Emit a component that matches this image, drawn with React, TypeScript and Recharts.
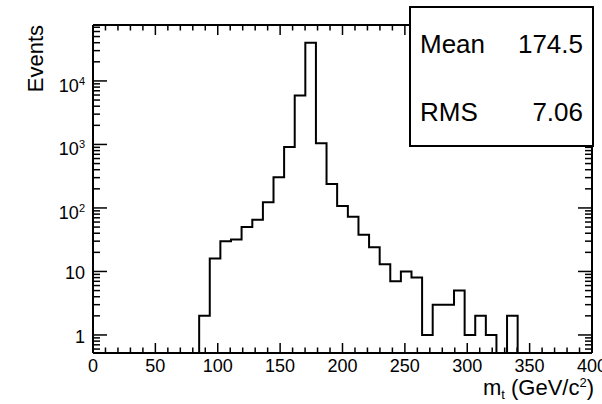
import React from 'react';
import { ComposedChart, Line, XAxis, YAxis } from 'recharts';

const FONT = '"Liberation Sans", Arial, Helvetica, sans-serif';

// histogram bins: lower edges in GeV/c^2, the last entry closes the final bin
const binEdges = [
  85.1, 93.6, 102.1, 110.6, 119.1, 127.7, 136.2, 144.7, 153.2, 161.7,
  170.2, 178.7, 187.2, 195.7, 204.3, 212.8, 221.3, 229.8, 238.3, 246.8,
  255.3, 263.8, 272.3, 280.9, 289.4, 297.9, 306.4, 314.9, 323.4, 331.9, 340.4,
];
const binCounts = [
  2, 16, 30, 32, 50, 65, 123, 304, 914, 5900,
  40000, 1045, 239, 107, 73, 38, 24, 13, 7, 10,
  8, 1, 3, 3, 5, 1, 2, 1, 0, 2,
];

const xMajorTicks = [0, 50, 100, 150, 200, 250, 300, 350, 400];
const xTickLabels = ['0', '50', '100', '150', '200', '250', '300', '350', '400'];
const xMinorTicks = [
  10, 20, 30, 40, 60, 70, 80, 90, 110, 120, 130, 140, 160, 170, 180, 190,
  210, 220, 230, 240, 260, 270, 280, 290, 310, 320, 330, 340, 360, 370, 380, 390,
];

const yDecades = [1, 10, 100, 1000, 10000];
const yTickBase = ['1', '10', '10', '10', '10'];
const yTickExp = ['', '', '2', '3', '4'];

const statNames = ['Mean', 'RMS'];
const statValues = ['174.5', '7.06'];

const Y_MIN = 0.52;
const Y_MAX = 76000;

// log axis minor ticks (2..9 in every decade inside the frame)
const yMinorTicks: number[] = [];
[0.1, 1, 10, 100, 1000, 10000].forEach((d) => {
  for (let k = 2; k <= 9; k++) {
    const v = k * d;
    if (v > Y_MIN && v < Y_MAX) yMinorTicks.push(v);
  }
});
const yTicks = [...yMinorTicks, ...yDecades].sort((a, b) => a - b);
const xTicks = [...xMajorTicks, ...xMinorTicks].sort((a, b) => a - b);

// empty bins sit on the frame bottom since log(0) has no place on the axis
const histData = [
  { x: binEdges[0], y: Y_MIN },
  ...binCounts.map((c, i) => ({ x: binEdges[i], y: c > 0 ? c : Y_MIN })),
  { x: binEdges[binEdges.length - 1], y: Y_MIN },
];

const isDecade = (v: number) => yDecades.some((d) => Math.abs(v - d) < 1e-6);

const BottomTick = ({ x, y, payload }: any) => {
  const idx = xMajorTicks.indexOf(payload.value);
  const major = idx >= 0;
  return (
    <g>
      <line x1={x} x2={x} y1={y} y2={y - (major ? 10 : 5.5)} stroke="#000" strokeWidth={1.5} />
      {major && (
        <text x={x} y={y + 18.5} textAnchor="middle" fontSize={18} fontFamily={FONT} fill="#000">
          {xTickLabels[idx]}
        </text>
      )}
    </g>
  );
};

const TopTick = ({ x, y, payload }: any) => {
  const major = xMajorTicks.includes(payload.value);
  return <line x1={x} x2={x} y1={y} y2={y + (major ? 10 : 5.5)} stroke="#000" strokeWidth={1.5} />;
};

const LeftTick = ({ x, y, payload }: any) => {
  const idx = yDecades.findIndex((d) => Math.abs(payload.value - d) < 1e-6);
  const major = idx >= 0;
  const exp = major ? yTickExp[idx] : '';
  return (
    <g>
      <line x1={x} x2={x + (major ? 14 : 7)} y1={y} y2={y} stroke="#000" strokeWidth={1.5} />
      {major && (
        <text x={x - 8} y={y + (exp ? 11 : 8)} textAnchor="end" fontSize={18} fontFamily={FONT} fill="#000">
          {yTickBase[idx]}
          {exp && (
            <tspan dy={-7} fontSize={11}>
              {exp}
            </tspan>
          )}
        </text>
      )}
    </g>
  );
};

const RightTick = ({ x, y, payload }: any) => {
  const major = isDecade(payload.value);
  return <line x1={x} x2={x - (major ? 14 : 7)} y1={y} y2={y} stroke="#000" strokeWidth={1.5} />;
};

const EventsTitle = () => (
  <text
    transform="translate(43,25) rotate(-90)"
    textAnchor="end"
    fontSize={22}
    fontFamily={FONT}
    fill="#000"
  >
    Events
  </text>
);

const MassTitle = () => (
  <text x={594} y={395} textAnchor="end" fontSize={22} fontFamily={FONT} fill="#000">
    m
    <tspan fontSize={13} dy={4}>t</tspan>
    <tspan dy={-4}> (GeV/c</tspan>
    <tspan fontSize={13} dy={-8}>2</tspan>
    <tspan dy={8}>)</tspan>
  </text>
);

const StatsBox = () => (
  <div
    style={{
      position: 'absolute',
      left: 409,
      top: 6,
      width: 185,
      height: 141,
      boxSizing: 'border-box',
      border: '2px solid #000',
      background: '#fff',
    }}
  >
    <svg width={181} height={137} style={{ display: 'block' }}>
      {statNames.map((name, i) => (
        <g key={name} fontFamily={FONT} fontSize={26} fill="#000">
          <text x={9} y={45 + i * 68}>{name}</text>
          <text x={172} y={45 + i * 68} textAnchor="end">{statValues[i]}</text>
        </g>
      ))}
    </svg>
  </div>
);

export default function App() {
  return (
    <div style={{ position: 'absolute', left: 0, top: 0, width: 602, height: 404, background: '#fff' }}>
      <ComposedChart width={602} height={404} data={histData} margin={{ top: 0, right: 0, bottom: 0, left: 0 }}>
        <XAxis
          xAxisId="bottom"
          dataKey="x"
          type="number"
          domain={[0, 400]}
          allowDataOverflow
          ticks={xTicks}
          interval={0}
          height={51}
          tickSize={0}
          tickMargin={0}
          tickLine={false}
          tick={<BottomTick />}
          axisLine={{ stroke: '#000', strokeWidth: 2 }}
          label={<MassTitle />}
        />
        <XAxis
          xAxisId="top"
          orientation="top"
          dataKey="x"
          type="number"
          domain={[0, 400]}
          allowDataOverflow
          ticks={xTicks}
          interval={0}
          height={25}
          tickSize={0}
          tickMargin={0}
          tickLine={false}
          tick={<TopTick />}
          axisLine={{ stroke: '#000', strokeWidth: 2 }}
        />
        <YAxis
          yAxisId="left"
          dataKey="y"
          type="number"
          scale="log"
          domain={[Y_MIN, Y_MAX]}
          allowDataOverflow
          ticks={yTicks}
          interval={0}
          width={93}
          tickSize={0}
          tickMargin={0}
          tickLine={false}
          tick={<LeftTick />}
          axisLine={{ stroke: '#000', strokeWidth: 2 }}
          label={<EventsTitle />}
        />
        <YAxis
          yAxisId="right"
          orientation="right"
          dataKey="y"
          type="number"
          scale="log"
          domain={[Y_MIN, Y_MAX]}
          allowDataOverflow
          ticks={yTicks}
          interval={0}
          width={10}
          tickSize={0}
          tickMargin={0}
          tickLine={false}
          tick={<RightTick />}
          axisLine={{ stroke: '#000', strokeWidth: 2 }}
        />
        <Line
          xAxisId="bottom"
          yAxisId="left"
          dataKey="y"
          type="stepAfter"
          stroke="#000"
          strokeWidth={2}
          dot={false}
          activeDot={false}
          isAnimationActive={false}
        />
      </ComposedChart>
      <StatsBox />
    </div>
  );
}
